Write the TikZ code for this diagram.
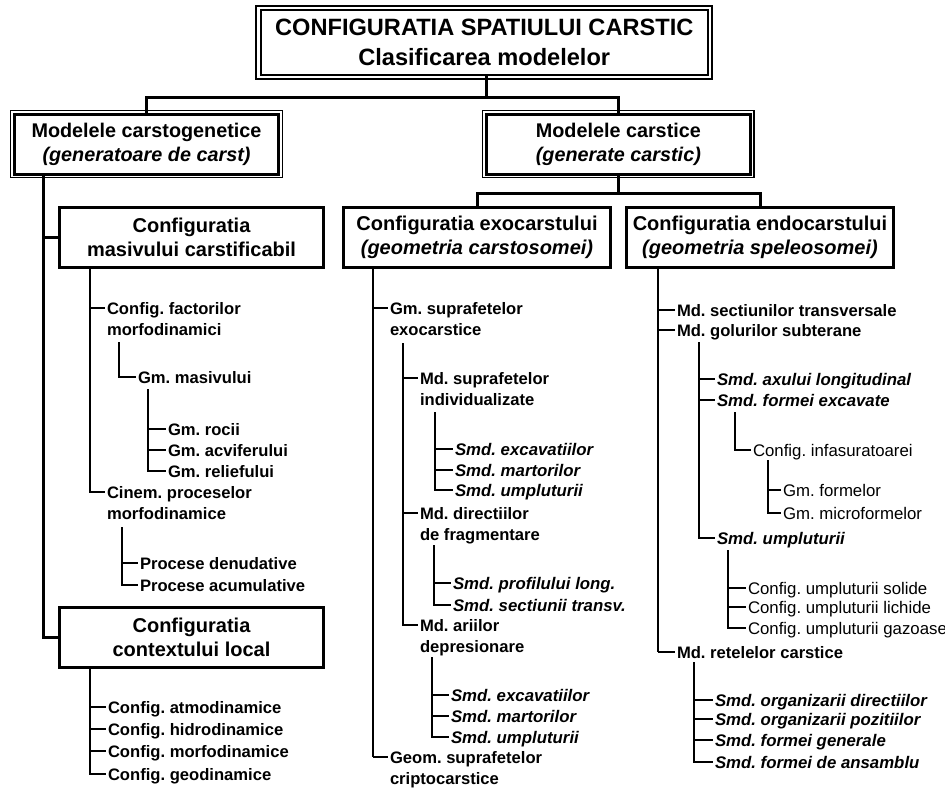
\documentclass[tikz,border=0pt]{standalone}
\usepackage{fontspec}
\setmainfont{Liberation Sans}
\frenchspacing
\newcommand{\TwoLines}[2]{\vtop{\hbox{#1}\hbox{#2}}}
\begin{document}
\begin{tikzpicture}[x=1pt,y=-1pt,
  conn/.style={line width=3pt},
  med/.style={line width=2pt},
  thn/.style={line width=1.1pt},
  itm/.style={anchor=west, inner sep=0pt, outer sep=0pt, text height=12pt, text depth=0pt, font=\fontsize{16.6}{21}\selectfont\bfseries},
  itmi/.style={itm, font=\fontsize{16.8}{21}\selectfont\bfseries\itshape},
  itmr/.style={itm, font=\fontsize{16.8}{21}\selectfont},
  ttl/.style={draw, line width=2pt, inner sep=0pt, outer sep=0pt, align=center, minimum width=447.1pt, minimum height=65.3pt, font=\fontsize{23.6}{30}\selectfont\bfseries},
  bxa/.style={draw, line width=3pt, inner sep=0pt, outer sep=0pt, align=center, minimum width=264pt, minimum height=59.6pt, font=\fontsize{19.8}{24}\selectfont\bfseries},
  bxb/.style={draw, line width=3.2pt, inner sep=0pt, outer sep=0pt, align=center, minimum height=60pt, font=\fontsize{20}{24}\selectfont\bfseries},
  frame/.style={line width=1.2pt}
]
\useasboundingbox (0,0) rectangle (945,789);

% ---------- boxes ----------
\node[ttl] (title) at (484.25,42.65) {CONFIGURATIA SPATIULUI CARSTIC\\Clasificarea modelelor};
\draw[frame,line width=1.5pt] ([shift={(-4.9,-4.2)}]title.north west) rectangle ([shift={(4.4,3.9)}]title.south east);

\node[bxa] (L1a) at (146.5,144.5) {Modelele carstogenetice\\\textit{(generatoare de carst)}};
\draw[frame] ([shift={(-4.2,-4)}]L1a.north west) rectangle ([shift={(3.6,3)}]L1a.south east);
\node[bxa] (L1b) at (618.35,144.5) {Modelele carstice\\\textit{(generate carstic)}};
\draw[frame] ([shift={(-4.2,-4)}]L1b.north west) rectangle ([shift={(3.6,3)}]L1b.south east);

\node[bxb, minimum width=264pt] (L2a) at (191.5,237.5) {Configuratia\\masivului carstificabil};
\node[bxb, minimum width=267pt] (L2b) at (477,237.5) {Configuratia exocarstului\\\textit{(geometria carstosomei)}};
\node[bxb, minimum width=267pt] (L2c) at (760,237.5) {Configuratia endocarstului\\\textit{(geometria speleosomei)}};
\node[bxb, minimum width=264pt] (L2d) at (191.5,637.5) {Configuratia\\contextului local};

% ---------- box connectors ----------
\coordinate (tj) at (486.5,97.5);
\draw[conn] (tj |- title.south) -- (tj);
\draw[conn] (L1a.north) |- (tj) -| (L1b.north);
\coordinate (tk) at (618.35,193);
\draw[conn] (L1b.south) -- (tk);
\draw[conn] (L2b.north) |- (tk) -| (L2c.north);
\coordinate (tl) at (43,0);
\draw[conn] (tl |- L1a.south) |- (L2d.west);
\draw[conn] (tl |- L2a.west) -- (L2a.west);

% ---------- left column ----------
\node[itm] (i1) at (107,308) {\TwoLines{Config. factorilor}{morfodinamici}};
\node[itm] (i2) at (107,492) {\TwoLines{Cinem. proceselor}{morfodinamice}};
\node[itm] (i3) at (138,377) {Gm. masivului};
\node[itm] (i4) at (168,429) {Gm. rocii};
\node[itm] (i5) at (168,450) {Gm. acviferului};
\node[itm] (i6) at (168,471) {Gm. reliefului};
\node[itm] (i7) at (140,563) {Procese denudative};
\node[itm] (i8) at (140,585) {Procese acumulative};
\node[itm] (i9) at (108,707) {Config. atmodinamice};
\node[itm] (i10) at (108,729) {Config. hidrodinamice};
\node[itm] (i11) at (108,751) {Config. morfodinamice};
\node[itm] (i12) at (108,774) {Config. geodinamice};

\coordinate (T1) at (90,0);
\draw[med] (T1 |- L2a.south) |- ([xshift=-2pt]i2.west);
\draw[med] (T1 |- i1.west) -- ([xshift=-2pt]i1.west);
\coordinate (T2) at (119,342);
\draw[med] (T2) |- ([xshift=-2pt]i3.west);
\coordinate (T3) at (148,389);
\draw[med] (T3) |- ([xshift=-2pt]i6.west);
\draw[med] (T3 |- i4.west) -- ([xshift=-2pt]i4.west);
\draw[med] (T3 |- i5.west) -- ([xshift=-2pt]i5.west);
\coordinate (T4) at (122,527);
\draw[med] (T4) |- ([xshift=-2pt]i8.west);
\draw[med] (T4 |- i7.west) -- ([xshift=-2pt]i7.west);
\coordinate (T5) at (90,0);
\draw[med] (T5 |- L2d.south) |- ([xshift=-2pt]i12.west);
\draw[med] (T5 |- i9.west) -- ([xshift=-2pt]i9.west);
\draw[med] (T5 |- i10.west) -- ([xshift=-2pt]i10.west);
\draw[med] (T5 |- i11.west) -- ([xshift=-2pt]i11.west);

% ---------- middle column ----------
\node[itm] (m1) at (390,308) {\TwoLines{Gm. suprafetelor}{exocarstice}};
\node[itm] (m2) at (420,378) {\TwoLines{Md. suprafetelor}{individualizate}};
\node[itmi] (m3a) at (455,449) {Smd. excavatiilor};
\node[itmi] (m3b) at (455,470) {Smd. martorilor};
\node[itmi] (m3c) at (455,490) {Smd. umpluturii};
\node[itm] (m4) at (420,513) {\TwoLines{Md. directiilor}{de fragmentare}};
\node[itmi] (m5a) at (453,583) {Smd. profilului long.};
\node[itmi] (m5b) at (453,605) {Smd. sectiunii transv.};
\node[itm] (m6) at (420,625) {\TwoLines{Md. ariilor}{depresionare}};
\node[itmi] (m7a) at (451,695) {Smd. excavatiilor};
\node[itmi] (m7b) at (451,716) {Smd. martorilor};
\node[itmi] (m7c) at (451,737) {Smd. umpluturii};
\node[itm] (m9) at (390,757) {\TwoLines{Geom. suprafetelor}{criptocarstice}};

\coordinate (M1) at (373,0);
\draw[med] (M1 |- L2b.south) -- (M1 |- m9.west);
\draw[thn] (M1 |- m9.west) -- ([xshift=-2pt]m9.west);
\draw[thn] (M1 |- m1.west) -- ([xshift=-2pt]m1.west);
\coordinate (M2) at (403,343);
\draw[med] (M2) |- ([xshift=-2pt]m6.west);
\draw[med] (M2 |- m2.west) -- ([xshift=-2pt]m2.west);
\draw[med] (M2 |- m4.west) -- ([xshift=-2pt]m4.west);
\coordinate (M3) at (435,412);
\draw[thn] (M3) |- ([xshift=-2pt]m3c.west);
\draw[thn] (M3 |- m3a.west) -- ([xshift=-2pt]m3a.west);
\draw[thn] (M3 |- m3b.west) -- ([xshift=-2pt]m3b.west);
\coordinate (M4) at (434,545);
\draw[thn] (M4) |- ([xshift=-2pt]m5b.west);
\draw[thn] (M4 |- m5a.west) -- ([xshift=-2pt]m5a.west);
\coordinate (M5) at (432,657);
\draw[thn] (M5) |- ([xshift=-2pt]m7c.west);
\draw[thn] (M5 |- m7a.west) -- ([xshift=-2pt]m7a.west);
\draw[thn] (M5 |- m7b.west) -- ([xshift=-2pt]m7b.west);

% ---------- right column ----------
\node[itm] (r1) at (677,310) {Md. sectiunilor transversale};
\node[itm] (r2) at (677,330) {Md. golurilor subterane};
\node[itmi] (r3) at (717,379) {Smd. axului longitudinal};
\node[itmi] (r4) at (717,400) {Smd. formei excavate};
\node[itmr] (r4a) at (753,450) {Config. infasuratoarei};
\node[itmr] (r4b) at (783,490) {Gm. formelor};
\node[itmr] (r4c) at (783,513) {Gm. microformelor};
\node[itmi] (r5) at (717,538) {Smd. umpluturii};
\node[itmr] (r5a) at (748,588) {Config. umpluturii solide};
\node[itmr] (r5b) at (748,607) {Config. umpluturii lichide};
\node[itmr] (r5c) at (748,628) {Config. umpluturii gazoase};
\node[itm] (r9) at (677,652) {Md. retelelor carstice};
\node[itmi] (r9a) at (715,700) {Smd. organizarii directiilor};
\node[itmi] (r9b) at (715,719) {Smd. organizarii pozitiilor};
\node[itmi] (r9c) at (715,740) {Smd. formei generale};
\node[itmi] (r9d) at (715,762) {Smd. formei de ansamblu};

\coordinate (R1) at (658,0);
\draw[med] (R1 |- L2c.south) -- (R1 |- r9.west);
\draw[thn] (R1 |- r9.west) -- ([xshift=-2pt]r9.west);
\draw[thn] (R1 |- r1.west) -- ([xshift=-2pt]r1.west);
\draw[thn] (R1 |- r2.west) -- ([xshift=-2pt]r2.west);
\coordinate (R2) at (699,342);
\draw[med] (R2) |- ([xshift=-2pt]r5.west);
\draw[med] (R2 |- r3.west) -- ([xshift=-2pt]r3.west);
\draw[med] (R2 |- r4.west) -- ([xshift=-2pt]r4.west);
\coordinate (R3) at (735,412);
\draw[thn] (R3) |- ([xshift=-2pt]r4a.west);
\coordinate (R4) at (768,460);
\draw[thn] (R4) |- ([xshift=-2pt]r4c.west);
\draw[thn] (R4 |- r4b.west) -- ([xshift=-2pt]r4b.west);
\coordinate (R5) at (728,550);
\draw[thn] (R5) |- ([xshift=-2pt]r5c.west);
\draw[thn] (R5 |- r5a.west) -- ([xshift=-2pt]r5a.west);
\draw[thn] (R5 |- r5b.west) -- ([xshift=-2pt]r5b.west);
\coordinate (R6) at (694,662);
\draw[thn] (R6) |- ([xshift=-2pt]r9d.west);
\draw[thn] (R6 |- r9a.west) -- ([xshift=-2pt]r9a.west);
\draw[thn] (R6 |- r9b.west) -- ([xshift=-2pt]r9b.west);
\draw[thn] (R6 |- r9c.west) -- ([xshift=-2pt]r9c.west);
\end{tikzpicture}
\end{document}
